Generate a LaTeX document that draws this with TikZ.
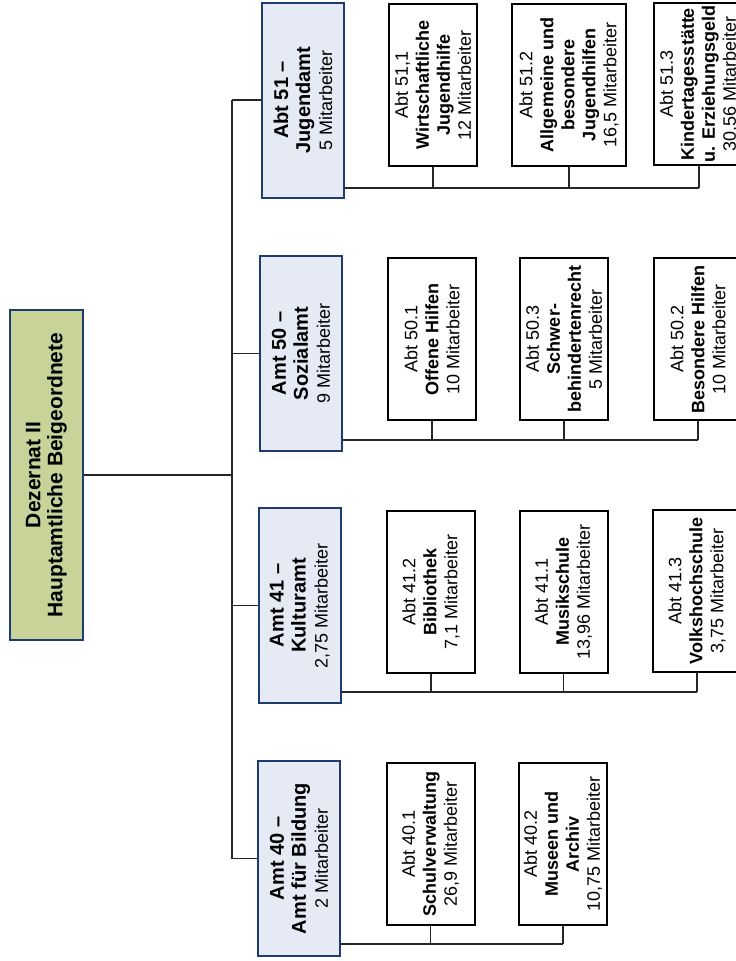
\documentclass[tikz,border=0pt]{standalone}
\usepackage{fontspec}
\setmainfont{Liberation Sans}
\definecolor{rootfill}{HTML}{C8D39A}
\definecolor{amtfill}{HTML}{E5EAF4}
\definecolor{navy}{HTML}{1F3C70}
\tikzset{
  rootbox/.style={draw=navy, fill=rootfill, line width=2pt, rotate=90, inner sep=0pt, align=center,
    minimum width=330pt, minimum height=73pt, font=\fontsize{21}{22}\selectfont\bfseries},
  amtbox/.style={draw=navy, fill=amtfill, line width=2pt, rotate=90, inner sep=0pt, align=center,
    minimum width=195pt, minimum height=82pt, font=\fontsize{18}{22}\selectfont},
  subbox/.style={draw=black, fill=white, line width=2pt, rotate=90, inner sep=0pt, align=center,
    minimum width=162pt, minimum height=88pt, font=\fontsize{18}{21}\selectfont},
  conn/.style={draw=black!85, line width=1.4pt}
}
\newcommand{\bt}[1]{{\fontsize{20}{22}\selectfont\bfseries #1}}
\begin{document}
\begin{tikzpicture}[x=1pt,y=-1pt]
\useasboundingbox (0,0) rectangle (736,961);
\clip (0,0) rectangle (736,961);
\fill[white] (0,0) rectangle (736,961);

\node[rootbox] (root) at (46.5,475) {Dezernat II\\Hauptamtliche Beigeordnete};

\node[amtbox] (amt51) at (303,100) {\bt{Abt 51 --}\\\bt{Jugendamt}\\5 Mitarbeiter};
\node[amtbox] (amt50) at (301,353.5) {\bt{Amt 50 --}\\\bt{Sozialamt}\\9 Mitarbeiter};
\node[amtbox] (amt41) at (300,605.5) {\bt{Amt 41 --}\\\bt{Kulturamt}\\2,75 Mitarbeiter};
\node[amtbox] (amt40) at (299,858.5) {\bt{Amt 40 --}\\\bt{Amt für Bildung}\\2 Mitarbeiter};

% row 51
\node[subbox] (c511) at (433,85) {Abt 51,1\\\textbf{Wirtschaftliche}\\\textbf{Jugendhilfe}\\12 Mitarbeiter};
\node[subbox, minimum height=114pt] (c512) at (569,85) {Abt 51.2\\\textbf{Allgemeine und}\\\textbf{besondere}\\\textbf{Jugendhilfen}\\16,5 Mitarbeiter};
\node[subbox, minimum height=90pt] (c513) at (699,84) {Abt 51.3\\\textbf{Kindertagesstätte}\\\textbf{u. Erziehungsgeld}\\30,56 Mitarbeiter};
% row 50
\node[subbox] (c501) at (432,339) {Abt 50.1\\\textbf{Offene Hilfen}\\10 Mitarbeiter};
\node[subbox] (c503) at (564,339) {Abt 50.3\\\textbf{Schwer-}\\\textbf{behindertenrecht}\\5 Mitarbeiter};
\node[subbox] (c502) at (698,339) {Abt 50.2\\\textbf{Besondere Hilfen}\\10 Mitarbeiter};
% row 41
\node[subbox] (c412) at (431,591.5) {Abt 41.2\\\textbf{Bibliothek}\\7,1 Mitarbeiter};
\node[subbox] (c411) at (563.5,591.5) {Abt 41.1\\\textbf{Musikschule}\\13,96 Mitarbeiter};
\node[subbox] (c413) at (697,591) {Abt 41.3\\\textbf{Volkshochschule}\\3,75 Mitarbeiter};
% row 40
\node[subbox] (c401) at (430.5,844) {Abt 40.1\\\textbf{Schulverwaltung}\\26,9 Mitarbeiter};
\node[subbox] (c402) at (563,844) {Abt 40.2\\\textbf{Museen und}\\\textbf{Archiv}\\10,75 Mitarbeiter};

% spine
\coordinate (sp) at (232,0);
\draw[conn] (root.south) -- (root.south -| sp);
\draw[conn] (amt51.north -| sp) -- (amt40.north -| sp);
\foreach \a in {amt51,amt50,amt41,amt40}{
  \draw[conn] (\a.north -| sp) -- (\a.north);
}
% buses
\coordinate (b51) at (0,188);
\coordinate (b50) at (0,440);
\coordinate (b41) at (0,692);
\coordinate (b40) at (0,944);
\draw[conn] (amt51.south |- b51) -- (c513.west |- b51);
\draw[conn] (amt50.south |- b50) -- (c502.west |- b50);
\draw[conn] (amt41.south |- b41) -- (c413.west |- b41);
\draw[conn] (amt40.south |- b40) -- (c402.west |- b40);
\foreach \c in {c511,c512,c513}{\draw[conn] (\c.west) -- (\c.west |- b51);}
\foreach \c in {c501,c503,c502}{\draw[conn] (\c.west) -- (\c.west |- b50);}
\foreach \c in {c412,c411,c413}{\draw[conn] (\c.west) -- (\c.west |- b41);}
\foreach \c in {c401,c402}{\draw[conn] (\c.west) -- (\c.west |- b40);}
\end{tikzpicture}
\end{document}
